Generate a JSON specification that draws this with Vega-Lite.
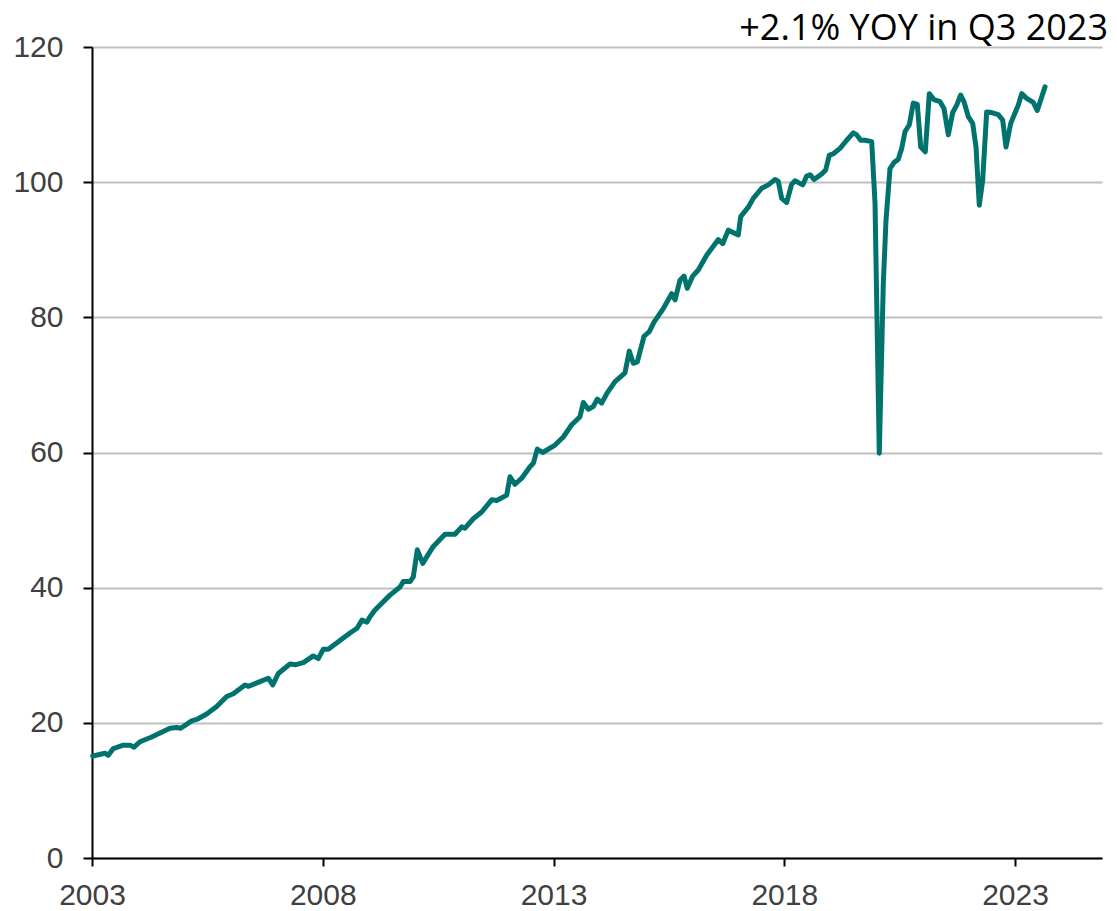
{
  "$schema": "https://vega.github.io/schema/vega-lite/v6.json",
  "width": 1010,
  "height": 811,
  "autosize": {"type": "none"},
  "padding": {"left": 92, "top": 47, "right": 15, "bottom": 53},
  "background": "white",
  "config": {"view": {"stroke": null}},
  "title": {
    "text": "+2.1% YOY in Q3 2023",
    "anchor": "end",
    "frame": "group",
    "fontSize": 36,
    "font": "Open Sans",
    "fontWeight": "normal",
    "color": "#000000",
    "offset": 4,
    "dx": 6,
    "dy": 20
  },
  "data": {
    "values": [
      {"t": 2003.015, "v": 15.1}, {"t": 2003.282, "v": 15.5}, {"t": 2003.353, "v": 15.2}, {"t": 2003.462, "v": 16.2},
      {"t": 2003.678, "v": 16.7}, {"t": 2003.823, "v": 16.7}, {"t": 2003.910, "v": 16.4}, {"t": 2004.040, "v": 17.2},
      {"t": 2004.294, "v": 17.9}, {"t": 2004.473, "v": 18.5}, {"t": 2004.690, "v": 19.2}, {"t": 2004.835, "v": 19.3},
      {"t": 2004.922, "v": 19.2}, {"t": 2005.160, "v": 20.3}, {"t": 2005.269, "v": 20.5}, {"t": 2005.485, "v": 21.3},
      {"t": 2005.702, "v": 22.4}, {"t": 2005.919, "v": 23.9}, {"t": 2006.062, "v": 24.3}, {"t": 2006.315, "v": 25.6},
      {"t": 2006.387, "v": 25.4}, {"t": 2006.640, "v": 26.1}, {"t": 2006.820, "v": 26.6}, {"t": 2006.916, "v": 25.6},
      {"t": 2007.037, "v": 27.3}, {"t": 2007.290, "v": 28.7}, {"t": 2007.420, "v": 28.6}, {"t": 2007.579, "v": 28.9},
      {"t": 2007.795, "v": 29.9}, {"t": 2007.904, "v": 29.5}, {"t": 2008.012, "v": 30.9}, {"t": 2008.120, "v": 30.9},
      {"t": 2008.337, "v": 32.0}, {"t": 2008.590, "v": 33.3}, {"t": 2008.742, "v": 34.0}, {"t": 2008.850, "v": 35.2},
      {"t": 2008.959, "v": 34.9}, {"t": 2009.024, "v": 35.7}, {"t": 2009.132, "v": 36.7}, {"t": 2009.457, "v": 38.9},
      {"t": 2009.674, "v": 40.1}, {"t": 2009.745, "v": 40.9}, {"t": 2009.891, "v": 40.9}, {"t": 2009.962, "v": 41.6},
      {"t": 2010.049, "v": 45.6}, {"t": 2010.166, "v": 43.6}, {"t": 2010.395, "v": 46.1}, {"t": 2010.649, "v": 47.9},
      {"t": 2010.866, "v": 47.9}, {"t": 2011.011, "v": 49.0}, {"t": 2011.082, "v": 48.8}, {"t": 2011.262, "v": 50.2},
      {"t": 2011.444, "v": 51.2}, {"t": 2011.661, "v": 53.0}, {"t": 2011.769, "v": 52.9}, {"t": 2011.986, "v": 53.7},
      {"t": 2012.057, "v": 56.4}, {"t": 2012.166, "v": 55.3}, {"t": 2012.311, "v": 56.2}, {"t": 2012.491, "v": 57.9},
      {"t": 2012.562, "v": 58.4}, {"t": 2012.649, "v": 60.5}, {"t": 2012.766, "v": 60.0}, {"t": 2013.033, "v": 61.1},
      {"t": 2013.212, "v": 62.3}, {"t": 2013.394, "v": 64.1}, {"t": 2013.574, "v": 65.3}, {"t": 2013.646, "v": 67.4},
      {"t": 2013.754, "v": 66.4}, {"t": 2013.862, "v": 66.8}, {"t": 2013.949, "v": 67.9}, {"t": 2014.044, "v": 67.3},
      {"t": 2014.153, "v": 68.7}, {"t": 2014.333, "v": 70.5}, {"t": 2014.549, "v": 71.8}, {"t": 2014.642, "v": 75.0},
      {"t": 2014.729, "v": 73.2}, {"t": 2014.816, "v": 73.4}, {"t": 2014.961, "v": 77.2}, {"t": 2015.076, "v": 77.9},
      {"t": 2015.178, "v": 79.3}, {"t": 2015.379, "v": 81.3}, {"t": 2015.561, "v": 83.5}, {"t": 2015.633, "v": 82.6},
      {"t": 2015.741, "v": 85.5}, {"t": 2015.828, "v": 86.1}, {"t": 2015.899, "v": 84.3}, {"t": 2016.016, "v": 86.1},
      {"t": 2016.137, "v": 87.0}, {"t": 2016.319, "v": 89.2}, {"t": 2016.571, "v": 91.5}, {"t": 2016.666, "v": 90.9},
      {"t": 2016.788, "v": 92.9}, {"t": 2017.004, "v": 92.2}, {"t": 2017.056, "v": 94.9}, {"t": 2017.221, "v": 96.3},
      {"t": 2017.329, "v": 97.6}, {"t": 2017.511, "v": 99.1}, {"t": 2017.654, "v": 99.6}, {"t": 2017.800, "v": 100.4},
      {"t": 2017.871, "v": 100.1}, {"t": 2017.945, "v": 97.6}, {"t": 2018.053, "v": 97.0}, {"t": 2018.161, "v": 99.7},
      {"t": 2018.233, "v": 100.2}, {"t": 2018.400, "v": 99.6}, {"t": 2018.486, "v": 100.9}, {"t": 2018.558, "v": 101.1},
      {"t": 2018.645, "v": 100.4}, {"t": 2018.811, "v": 101.2}, {"t": 2018.898, "v": 101.8}, {"t": 2018.976, "v": 104.0},
      {"t": 2019.063, "v": 104.2}, {"t": 2019.208, "v": 105.0}, {"t": 2019.353, "v": 106.2}, {"t": 2019.496, "v": 107.3},
      {"t": 2019.570, "v": 107.0}, {"t": 2019.656, "v": 106.2}, {"t": 2019.750, "v": 106.2}, {"t": 2019.895, "v": 106.0},
      {"t": 2019.967, "v": 96.9}, {"t": 2020.059, "v": 59.9}, {"t": 2020.146, "v": 85.0}, {"t": 2020.205, "v": 94.4},
      {"t": 2020.291, "v": 102.0}, {"t": 2020.378, "v": 102.9}, {"t": 2020.471, "v": 103.4}, {"t": 2020.545, "v": 105.0},
      {"t": 2020.617, "v": 107.5}, {"t": 2020.710, "v": 108.5}, {"t": 2020.796, "v": 111.7}, {"t": 2020.883, "v": 111.5},
      {"t": 2020.957, "v": 105.2}, {"t": 2021.056, "v": 104.5}, {"t": 2021.143, "v": 113.1}, {"t": 2021.245, "v": 112.2},
      {"t": 2021.375, "v": 111.9}, {"t": 2021.461, "v": 110.9}, {"t": 2021.555, "v": 107.0}, {"t": 2021.650, "v": 110.3},
      {"t": 2021.737, "v": 111.4}, {"t": 2021.823, "v": 112.9}, {"t": 2021.895, "v": 111.9}, {"t": 2021.988, "v": 109.7},
      {"t": 2022.083, "v": 108.7}, {"t": 2022.155, "v": 105.2}, {"t": 2022.226, "v": 96.6}, {"t": 2022.300, "v": 100.3},
      {"t": 2022.386, "v": 110.4}, {"t": 2022.495, "v": 110.3}, {"t": 2022.637, "v": 110.0}, {"t": 2022.733, "v": 109.2},
      {"t": 2022.805, "v": 105.2}, {"t": 2022.907, "v": 108.7}, {"t": 2023.022, "v": 110.6}, {"t": 2023.071, "v": 111.4},
      {"t": 2023.145, "v": 113.1}, {"t": 2023.253, "v": 112.4}, {"t": 2023.396, "v": 111.8}, {"t": 2023.483, "v": 110.6},
      {"t": 2023.650, "v": 114.1}
    ]
  },
  "mark": {"type": "line", "color": "#00736F", "strokeWidth": 5, "strokeJoin": "round", "strokeCap": "round"},
  "encoding": {
    "x": {
      "field": "t",
      "type": "quantitative",
      "title": null,
      "scale": {"domain": [2003, 2024.885], "nice": false, "zero": false},
      "axis": {
        "values": [2003, 2008, 2013, 2018, 2023],
        "format": "d",
        "grid": false,
        "domainColor": "#000000",
        "domainWidth": 2,
        "tickColor": "#000000",
        "tickWidth": 2,
        "tickSize": 8,
        "labelFont": "Liberation Sans",
        "labelFontSize": 30,
        "labelColor": "#404040",
        "labelPadding": 14,
        "labelFlush": false
      }
    },
    "y": {
      "field": "v",
      "type": "quantitative",
      "title": null,
      "scale": {"domain": [0, 120], "nice": false},
      "axis": {
        "values": [0, 20, 40, 60, 80, 100, 120],
        "grid": true,
        "gridColor": "#BFBFBF",
        "gridWidth": 2,
        "domainColor": "#000000",
        "domainWidth": 2,
        "tickColor": "#000000",
        "tickWidth": 2,
        "tickSize": 9,
        "labelFont": "Liberation Sans",
        "labelFontSize": 30,
        "labelColor": "#404040",
        "labelPadding": 20
      }
    }
  }
}
